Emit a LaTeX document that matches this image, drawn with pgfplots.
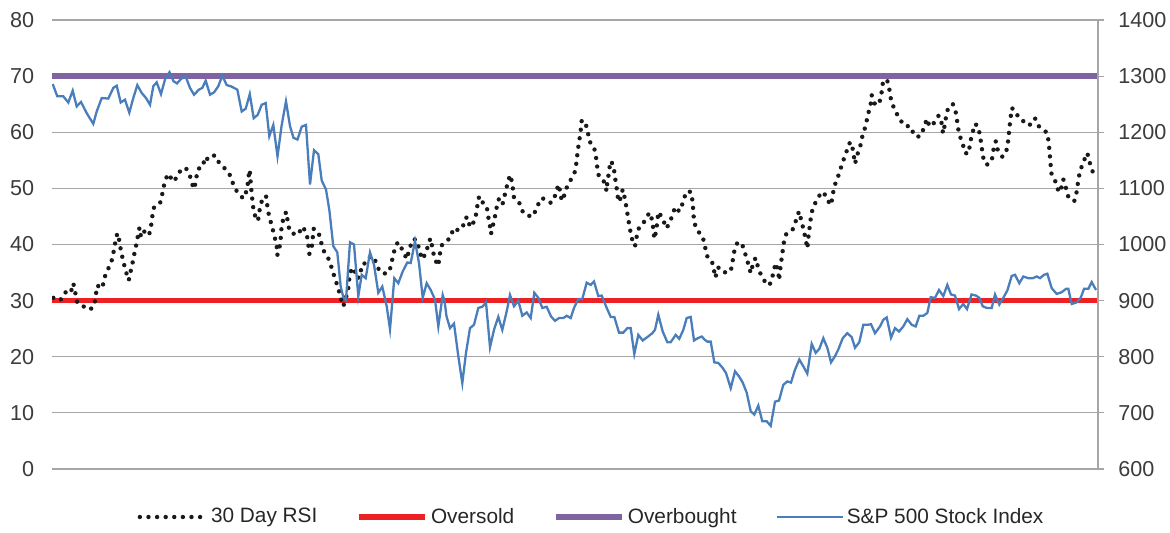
\documentclass[border=0pt]{standalone}
\usepackage{pgfplots}
\usepackage{pgfplotstable}
\pgfplotsset{compat=1.18}
\usepackage{fontspec}
\setmainfont{Liberation Sans}
\definecolor{gridgray}{RGB}{166,166,166}
\definecolor{osred}{RGB}{237,32,36}
\definecolor{obpurple}{RGB}{128,100,162}
\definecolor{spblue}{RGB}{74,126,187}
\definecolor{txt}{RGB}{60,60,60}
\pgfplotsset{/pgf/number format/assume math mode=true}

\pgfplotstableread{
x rsi
53.3 30.5
57.5 30.0
61.7 30.3
66 31.6
70.7 31.4
73.3 33.1
75.3 31.4
77.3 29.6
83.3 29.0
86.7 28.6
90 28.4
94.3 29.1
95.7 30.9
97.3 32.7
100 32.4
102.3 32.2
104.3 34.0
107.3 35.4
111 36.6
113.3 38.4
115 40.1
117.3 42.0
119.3 40.7
121 38.8
123.3 37.0
125.7 35.3
128.7 33.6
130 34.7
132.3 36.5
134.3 38.3
136.3 40.0
138.3 41.9
139.5 43.0
141 41.3
144.3 42.3
149 41.6
151 43.2
152.3 45.0
154 46.6
160 47.3
162.3 49.0
164.3 50.8
167.7 52.6
171.7 51.7
174.3 51.2
178.3 52.8
185.7 53.7
190 52.2
192.7 50.5
194.3 49.9
196 51.7
198.3 53.5
202.7 53.8
205 55.6
208.3 55.1
211.7 55.7
215 55.9
219.3 54.5
224 53.7
229.3 52.6
232.7 51.0
237.3 49.3
243.3 48.2
246.7 49.6
248.3 51.5
249.3 53.3
250 52.7
250.7 51.0
251.7 49.1
252.7 47.3
254 45.5
258 44.2
259.3 45.9
261.7 47.7
266 48.7
267.3 46.9
269 45.1
271.7 43.4
274.3 41.6
276.7 39.8
277.3 38.1
280 39.9
281 41.7
281.7 43.5
285 45.5
286.7 45.8
287.7 43.9
290 42.2
294 41.9
297.7 41.7
302.7 43.2
306.7 41.9
308.3 40.1
309.3 38.3
311.7 39.4
312.7 41.0
313.5 42.8
318.3 42.3
320.7 40.6
324 38.8
329 37.3
332.3 35.5
335 33.9
338.3 32.2
340.7 30.4
343.3 29.0
346 30.5
348.3 32.2
349.3 34.0
351.7 35.8
354 35.7
356.7 34.0
360 34.2
361.7 36.4
366.7 36.8
370 37.8
374 37.8
377.3 36.0
381 35.0
384 34.8
389.3 35.1
391.7 36.9
394 38.7
397.7 40.4
402.7 39.0
406.7 37.4
409.3 39.1
412.7 40.9
416 40.9
419.3 39.2
421.7 37.4
426 38.4
428.3 40.1
430.5 41.1
432.5 39.3
434.5 37.5
438.3 36.2
439.5 37.9
441.5 39.8
444.5 40.4
450.7 41.2
453.3 42.9
457.3 42.6
462.3 42.8
465 44.6
467.3 44.9
470 43.1
475 44.3
476.7 46.1
478.3 48.0
479.3 48.6
483.3 47.3
486.7 46.8
488.3 44.9
490 43.2
491 41.9
493.3 43.7
495.7 45.6
497.3 47.3
499.3 48.3
502.7 47.3
505 49.0
507.3 50.7
510 52.4
511 52.0
512.7 50.2
514 48.3
516 47.9
519.3 47.4
523.3 45.6
531.7 44.9
536.7 46.3
540 48.1
544.3 48.2
551 47.4
555.7 48.9
558.3 50.7
560 49.6
561.7 47.8
563.3 48.2
566 49.9
570.7 51.5
575 53.0
576.7 54.9
577.7 56.7
579.3 58.5
580.7 60.3
581.7 62.1
585 61.9
587.7 60.2
589.3 58.4
594 57.4
596 55.6
597.3 53.7
599 52.0
604 51.2
606.7 49.5
607.3 51.2
609.3 53.1
610 54.8
611.7 54.7
614.3 53.0
615.7 51.1
617.3 49.3
618.3 47.6
620 48.0
622.7 49.8
625 48.1
626.7 46.3
628.3 44.5
630 42.7
632 41.0
635 39.7
636.7 41.4
639.3 43.2
645 44.2
649.3 45.7
651.7 44.6
653.3 42.8
654.3 41.0
656 42.3
657.3 44.0
658.3 45.8
662.7 44.7
666 42.9
668.7 43.5
672.7 45.3
675 46.7
679.3 45.9
683.3 47.6
686 49.4
690.7 49.4
692.7 47.6
693.3 45.7
694.3 43.8
698.3 42.3
702.7 41.4
705 39.6
707.3 37.9
711.7 37.2
714 35.4
715.3 34.1
718.3 35.9
723.3 35.0
730.7 35.2
732.5 36.9
734.3 38.8
737.5 40.4
742 40.1
745.3 38.3
748.3 36.5
750.7 34.9
753 36.6
755.5 37.6
758.3 35.8
762 34.1
768 32.7
770.5 33.1
773.5 35.0
775.5 36.7
778.3 35.2
779 33.6
780.7 36.4
782.3 38.3
783.5 40.1
786.3 41.9
792.5 42.6
796 44.3
799 45.9
801.7 44.0
804 42.3
806 40.6
807.3 39.3
808.3 41.2
809.5 42.9
810.8 44.7
812.7 46.5
816.7 47.9
821.7 49.4
826.7 48.6
830 47.0
831.7 47.7
833.3 49.4
835.7 51.1
839.3 52.7
842.3 54.5
845.8 56.2
849.2 58.0
851.5 58.2
853.3 56.4
855 54.4
857.5 56.1
860.5 57.7
862.7 59.6
865.8 61.2
867.7 63.0
870.5 64.8
871.7 66.6
875.3 64.8
879.6 65.4
881.7 67.2
883 69.0
887 69.4
889.3 67.7
891 65.8
894.3 64.1
899.3 62.5
904 61.2
911 61.0
914 59.4
919.5 59.2
924.2 60.8
926.7 62.4
929.7 61.0
933.3 61.5
938.7 63.0
941.5 61.7
943 59.8
944.3 60.9
946 62.7
948.3 64.5
952.9 65.0
956 63.4
957.5 61.5
959 59.7
962.5 58.1
965 56.3
968.7 56.2
970 58.1
972.5 59.9
975 61.5
978.3 61.0
980 59.3
981.7 57.5
982.7 55.7
986.7 54.2
991.7 54.8
993 56.6
995.8 58.4
997.8 56.8
1002.5 55.6
1007 57.0
1008.3 58.7
1009.3 60.6
1010.5 62.4
1011.7 64.3
1014.5 64.0
1019.3 62.4
1025 61.8
1029.2 61.2
1035 62.5
1038 61.2
1042.5 60.5
1047.3 59.9
1048.8 58.0
1049.7 56.2
1050.5 54.4
1051.5 52.6
1056 51.0
1058.7 49.3
1060.8 49.8
1063.3 51.6
1065.7 50.2
1068.3 48.5
1074.2 47.7
1076.7 49.4
1078 51.1
1079.7 52.9
1083.3 54.7
1087.3 56.3
1089.7 54.6
1093 52.8
}\rsidata

\pgfplotstableread{
x sp
52.7 1286
57.3 1264
63.3 1264
68.3 1253
72.7 1274
76.7 1246
81 1254
86.7 1234
93.3 1215
96.7 1237
101.7 1261
108.3 1260
113.3 1279
116.7 1283
120.7 1253
125 1258
129.3 1235
133.3 1261
137.3 1284
141.7 1270
146 1261
150 1249
153.3 1282
156.7 1289
161 1268
165.3 1296
169.5 1307
173.5 1291
177 1287
181 1295
185.7 1299
190 1279
194 1267
199 1276
202.3 1279
205.7 1292
210 1267
214 1271
218.3 1282
222.3 1301
226.7 1284
230.7 1282
237.3 1276
241.7 1237
245.7 1242
249.8 1268
253.7 1225
257.7 1231
261.7 1249
265.7 1252
269.3 1193
273.3 1213
277.5 1157
281.7 1213
286 1255
290 1211
293.5 1190
297.5 1187
301.7 1210
306 1213
310 1107
314 1168
318.3 1161
321.7 1114
326 1098
329.3 1062
333.3 997
337.3 986
340.7 925
343.3 906
346 901
350 1004
354 1000
358.3 908
361.7 946
365.7 940
370 986
374 964
378.3 914
382.3 925
386.7 890
390 849
394.3 940
398.3 931
402.7 952
407.3 968
410.7 967
415 1006
419 967
422.7 905
426.7 931
430.7 919
435 902
438.3 854
442.7 910
444.5 900
446.5 872
450 851
454 859
458.3 801
462.3 753
466 807
470 851
474 857
478.3 887
482.3 889
486 897
490 817
494 848
498.3 871
502.3 848
506.7 881
510 910
514 890
518.3 900
522.3 873
526.7 879
530.7 869
534.3 914
538.3 905
542.3 887
546.7 889
551 872
555 864
559 869
563.3 869
566.7 873
570.7 869
574 887
578.3 903
582.3 903
586.7 932
590.7 928
594 934
598.3 908
601.7 909
606.7 887
610.7 871
614.3 871
619 843
623.3 843
627.3 851
630.7 851
634.3 805
638.3 839
642.7 829
647.3 835
652.3 842
655 848
658.3 875
662.7 845
667.3 826
670.7 826
675.7 839
679.3 832
683.3 848
686.7 869
690.7 871
694 829
697.7 833
701.7 836
705 830
707.3 827
710.7 827
714.3 790
718.3 789
722.7 780
726 771
730.7 744
735 774
739 765
742.7 754
746.7 736
750.7 703
754.3 697
758.3 713
762.3 685
766.7 685
770.7 677
775 720
779 722
783.3 750
787.3 756
791 754
795 777
799.3 795
803.3 783
807.3 770
811.7 823
815.7 807
819.3 814
823.3 833
827.3 816
831 790
835 801
838.3 813
842.7 833
847.3 842
851.7 835
855 816
859.3 826
863.3 857
867.7 857
871 858
875 842
880 854
883.3 866
886.7 870
891 834
895 851
899 845
903.3 854
907.3 867
911.7 857
915.7 854
919.3 873
923.3 873
927.3 878
930.7 906
935 905
939 919
943.3 908
947.3 928
951 911
955 909
959 885
963.3 894
967 885
971.5 911
976 909
979.3 905
982.7 890
986.7 887
991.7 887
995 911
999.3 893
1003.3 905
1007.3 918
1011.7 944
1015 946
1019.3 931
1023.3 943
1028.3 940
1032.7 940
1036.7 943
1040 940
1044 946
1047.3 948
1051.7 922
1056.7 912
1061.7 915
1066 921
1068.3 921
1071.7 894
1076.7 897
1080.7 905
1084 921
1088.3 921
1091.7 933
1096 919
}\spdata

\begin{document}
\begin{tikzpicture}
\useasboundingbox (-26pt,-31.5pt) rectangle (559pt,234.5pt);
\begin{axis}[
  scale only axis, width=523pt, height=224.5pt,
  xmin=52, xmax=1098, ymin=0, ymax=80,
  xtick=\empty, ytick={0,10,...,80},
  ymajorgrids, grid style={gridgray, line width=0.6pt},
  axis line style={draw=none},
  major tick length=0pt,
  yticklabel pos=left,
  yticklabel style={font=\fontsize{10.8}{13}\selectfont, text=txt, inner sep=0pt, xshift=-8.7pt},
]
\addplot[osred, line width=2.8pt] coordinates {(52,30) (1098,30)};
\addplot[obpurple, line width=2.8pt] coordinates {(52,70) (1098,70)};
\addplot[black!90, line width=2.2pt, dash pattern=on 0pt off 4.3pt, line cap=round] table[x=x,y=rsi] {\rsidata};
\end{axis}
\begin{axis}[
  scale only axis, width=523pt, height=224.5pt,
  xmin=52, xmax=1098, ymin=600, ymax=1400,
  axis x line=none, axis y line*=right,
  ytick={600,700,...,1400},
  axis line style={gridgray, line width=0.6pt},
  tick style={gridgray, line width=0.6pt},
  tick align=outside, major tick length=3pt,
  yticklabel style={font=\fontsize{10.8}{13}\selectfont, text=txt, inner sep=0pt, xshift=7pt},
  /pgf/number format/1000 sep={},
  legend columns=4,
  legend style={draw=none, fill=none, at={(axis description cs:0.5163,-0.1069)}, anchor=center,
    font=\fontsize{10.4}{12.5}\selectfont, text=black!85, nodes={inner sep=1.5pt},
    /tikz/every even column/.append style={column sep=18pt}},
  legend image code/.code={\draw[#1] (0pt,0pt) -- (33pt,0pt);},
]
\addlegendimage{black!90, line width=2.2pt, dash pattern=on 0pt off 4.3pt, line cap=round}
\addlegendentry{30 Day RSI}
\addlegendimage{osred, line width=2.8pt}
\addlegendentry{Oversold}
\addlegendimage{obpurple, line width=2.8pt}
\addlegendentry{Overbought}
\addplot[spblue, line width=1.15pt] table[x=x,y=sp] {\spdata};
\addlegendentry{S\&P 500 Stock Index}
\end{axis}
\end{tikzpicture}
\end{document}
